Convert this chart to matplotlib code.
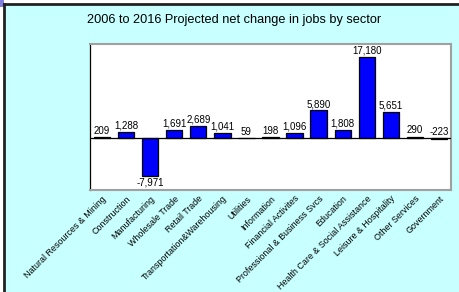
import matplotlib.pyplot as plt
from matplotlib.patches import Rectangle

plt.rcParams['font.family'] = ['Liberation Sans', 'DejaVu Sans']

# Sector data
sectors = ['Natural Resources & Mining', 'Construction', 'Manufacturing',
           'Wholesale Trade', 'Retail Trade', 'Transportation&Warehousing',
           'Utilities', 'Information', 'Financial Activites',
           'Professional & Business Svcs', 'Education',
           'Health Care & Social Assistance', 'Leisure & Hospitality',
           'Other Services', 'Government']
net_change = [209, 1288, -7971, 1691, 2689, 1041, 59, 198, 1096,
              5890, 1808, 17180, 5651, 290, -223]

fig = plt.figure(figsize=(4.59, 2.92), dpi=100, facecolor='white')

# Slide-style cyan panel with black border on left and top
W, H = 459, 292
fig.patches.append(Rectangle((4 / W, -0.1), 1.2, 1 - 4 / H + 0.1,
                             transform=fig.transFigure, facecolor='#C8FFFF',
                             edgecolor='none', zorder=-5))
fig.add_artist(plt.Line2D([4 / W, 4 / W], [0, 1 - 4 / H], color='#222222',
                          lw=2.0, transform=fig.transFigure))
fig.add_artist(plt.Line2D([4 / W, 1], [1 - 4 / H, 1 - 4 / H], color='#222222',
                          lw=2.0, transform=fig.transFigure))
fig.patches.append(Rectangle((0, 1 - 7 / H), 4 / W, 7 / H,
                             transform=fig.transFigure, facecolor='#8080E0',
                             edgecolor='none', zorder=-4))

ax = fig.add_axes([90 / W, 1 - 190 / H, (451 - 90) / W, (190 - 44) / H])
ax.set_facecolor('white')

x = range(len(sectors))
bars = ax.bar(x, net_change, width=0.68, color='#0000FF', edgecolor='black',
              linewidth=0.9, zorder=3)
ax.axhline(0, color='black', lw=0.9, zorder=4)

for bar, v in zip(bars, net_change):
    cx = bar.get_x() + bar.get_width() / 2
    if v < -1000:
        ax.text(cx, v - 300, f'{v:,}', ha='center', va='top', fontsize=7)
    else:
        ax.text(cx, max(v, 0) + 300, f'{v:,}', ha='center', va='bottom',
                fontsize=7)

ax.set_ylim(-11000, 20000)
ax.set_xlim(-0.5, len(sectors) - 0.5)
ax.set_yticks([])
ax.set_xticks(list(x))
ax.set_xticklabels(sectors, rotation=45, ha='right', va='top',
                   rotation_mode='anchor', fontsize=6.4)
ax.tick_params(axis='x', length=0, pad=3)

for side in ['top', 'right', 'bottom']:
    ax.spines[side].set_color('#A0A0A0')
    ax.spines[side].set_linewidth(1.5)
ax.spines['left'].set_color('black')
ax.spines['left'].set_linewidth(0.9)

fig.text(234 / W, 1 - 20 / H, '2006 to 2016 Projected net change in jobs by sector',
         ha='center', va='center', fontsize=9.2)

fig.savefig('out.png', dpi=100)
